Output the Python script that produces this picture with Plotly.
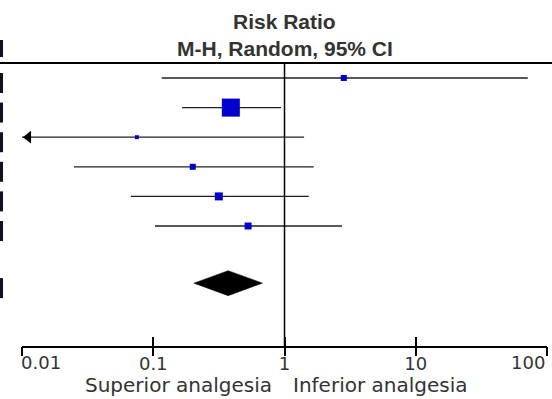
import numpy as np
import plotly.graph_objects as go

# ---------------- data ----------------
study_rr = [2.83, 0.39, 0.075, 0.20, 0.316, 0.528]
study_lo = [0.116, 0.166, 0.004, 0.0249, 0.0676, 0.103]
study_hi = [71.4, 0.94, 1.41, 1.67, 1.53, 2.74]
study_weight = [6.9, 61.7, 3.0, 6.9, 12.2, 9.3]
pooled_rr = 0.372
pooled_lo = 0.204
pooled_hi = 0.679
tick_vals = [0.01, 0.1, 1, 10, 100]
tick_text = ["0.01", "0.1", "1", "10", "100"]
title_lines = ["Risk Ratio", "M-H, Random, 95% CI"]
favours_labels = ["Superior analgesia", "Inferior analgesia"]

# ---------------- layout geometry ----------------
W, H = 552, 399
ML, MR, MT, MB = 22, 5, 63, 53
PLOT_W = W - ML - MR
PLOT_H = H - MT - MB
ROW_PX = 29.6
FIRST_ROW_PX = 78 - MT
AX_MIN, AX_MAX = tick_vals[0], tick_vals[-1]

row_y = list(range(len(study_rr)))
pooled_y = 6.93
y_top = -FIRST_ROW_PX / ROW_PX
y_bot = (PLOT_H - FIRST_ROW_PX) / ROW_PX

line_col = "#1e1e2a"
mark_col = "#0000cc"
text_col = "#333333"
tick_font = dict(family="DejaVu Sans", size=18, color=text_col)

fig = go.Figure()

# CI lines
for i in range(len(study_rr)):
    fig.add_trace(go.Scatter(
        x=[max(study_lo[i], AX_MIN), min(study_hi[i], AX_MAX)], y=[row_y[i], row_y[i]],
        mode="lines", line=dict(color=line_col, width=1.3),
        hoverinfo="skip", showlegend=False))

# arrows for CIs extending beyond the axis
arrow_x, arrow_y = [], []
for i in range(len(study_rr)):
    if study_lo[i] < AX_MIN:
        arrow_x.append(AX_MIN * 10 ** (6.3 / (PLOT_W / 4)))
        arrow_y.append(row_y[i])
fig.add_trace(go.Scatter(
    x=arrow_x, y=arrow_y, mode="markers",
    marker=dict(symbol="triangle-left", size=11, color="black", opacity=1, line=dict(width=0)),
    hoverinfo="skip", showlegend=False))

# study squares (size by weight)
wmax = max(study_weight)
sizes = [18 * np.sqrt(w / wmax) for w in study_weight]
fig.add_trace(go.Scatter(
    x=study_rr, y=row_y, mode="markers",
    marker=dict(symbol="square", size=sizes, color=mark_col, opacity=1, line=dict(width=0)),
    hoverinfo="skip", showlegend=False))

# pooled diamond
dh = 12.5 / ROW_PX
fig.add_trace(go.Scatter(
    x=[pooled_lo, pooled_rr, pooled_hi, pooled_rr, pooled_lo],
    y=[pooled_y, pooled_y - dh, pooled_y, pooled_y + dh, pooled_y],
    mode="lines", fill="toself", fillcolor="black",
    line=dict(color="black", width=0.5),
    hoverinfo="skip", showlegend=False))

# invisible trace for the overlay axis (outer tick halves)
fig.add_trace(go.Scatter(x=[1], y=[0], xaxis="x2", mode="markers",
                         marker=dict(opacity=0), hoverinfo="skip", showlegend=False))

shapes = []
# line of no effect
shapes.append(dict(type="line", xref="x", yref="paper", x0=1, x1=1, y0=0, y1=1,
                   line=dict(color="black", width=1.5)))
# top rule across the whole width
shapes.append(dict(type="line", xref="paper", yref="paper",
                   x0=-ML / PLOT_W, x1=1 + MR / PLOT_W, y0=1, y1=1,
                   line=dict(color="black", width=2)))
# remnants of the table column at the left edge
xb0, xb1 = -ML / PLOT_W, -(ML - 3) / PLOT_W
for r in row_y + [pooled_y]:
    shapes.append(dict(type="rect", xref="paper", yref="y", x0=xb0, x1=xb1,
                       y0=r - 5 / ROW_PX, y1=r + 15 / ROW_PX,
                       fillcolor="#111122", line=dict(width=0)))
shapes.append(dict(type="rect", xref="paper", yref="paper", x0=xb0, x1=xb1,
                   y0=1 + (MT - 57) / PLOT_H, y1=1 + (MT - 40) / PLOT_H,
                   fillcolor="#111122", line=dict(width=0)))

# inner tick labels on the axis; the two end labels are aligned inward
tick_labels = [t if 0 < k < len(tick_text) - 1 else "" for k, t in enumerate(tick_text)]

annotations = []
tick_lab_y = -(362 - (MT + PLOT_H)) / PLOT_H
annotations.append(dict(text=tick_text[0], xref="x", yref="paper", x=np.log10(tick_vals[0]),
                        y=tick_lab_y, xanchor="left", yanchor="middle", xshift=-3,
                        showarrow=False, font=tick_font))
annotations.append(dict(text=tick_text[-1], xref="x", yref="paper", x=np.log10(tick_vals[-1]),
                        y=tick_lab_y, xanchor="right", yanchor="middle", xshift=0,
                        showarrow=False, font=tick_font))

title_px = [21, 48.5]
for t, py in zip(title_lines, title_px):
    annotations.append(dict(text="<b>" + t + "</b>", xref="x", yref="paper",
                            x=0, y=1 + (MT - py) / PLOT_H, xanchor="center", yanchor="middle",
                            showarrow=False,
                            font=dict(family="Liberation Sans, Arial", size=21, color=text_col)))
fav_y = -(385 - (MT + PLOT_H)) / PLOT_H
annotations.append(dict(text=favours_labels[0], xref="x", yref="paper", x=0, y=fav_y,
                        xanchor="right", yanchor="middle", xshift=-11, showarrow=False,
                        font=dict(family="DejaVu Sans", size=20, color=text_col)))
annotations.append(dict(text=favours_labels[1], xref="x", yref="paper", x=0, y=fav_y,
                        xanchor="left", yanchor="middle", xshift=6, showarrow=False,
                        font=dict(family="DejaVu Sans", size=20, color=text_col)))

fig.update_layout(
    width=W, height=H, autosize=False,
    margin=dict(l=ML, r=MR, t=MT, b=MB, pad=0, autoexpand=False),
    paper_bgcolor="white", plot_bgcolor="white",
    showlegend=False,
    xaxis=dict(type="log", range=[np.log10(AX_MIN), np.log10(AX_MAX)],
               tickvals=tick_vals, ticktext=tick_labels, automargin=False,
               ticks="inside", ticklen=9, tickwidth=2, tickcolor="black",
               ticklabelstandoff=0,
               showline=True, linecolor="black", linewidth=2,
               showgrid=False, zeroline=False, fixedrange=True,
               tickfont=tick_font),
    xaxis2=dict(type="log", range=[np.log10(AX_MIN), np.log10(AX_MAX)],
                overlaying="x", anchor="y", side="bottom", automargin=False,
                tickvals=tick_vals, ticks="outside", ticklen=9, tickwidth=2,
                tickcolor="black", showticklabels=False, showline=False,
                showgrid=False, zeroline=False, fixedrange=True),
    yaxis=dict(range=[y_bot, y_top], visible=False, fixedrange=True, automargin=False),
    shapes=shapes,
    annotations=annotations,
)

fig.write_html("out.html", config={"displayModeBar": False},
               post_script="document.body.style.margin='0';document.body.style.overflow='hidden';")
